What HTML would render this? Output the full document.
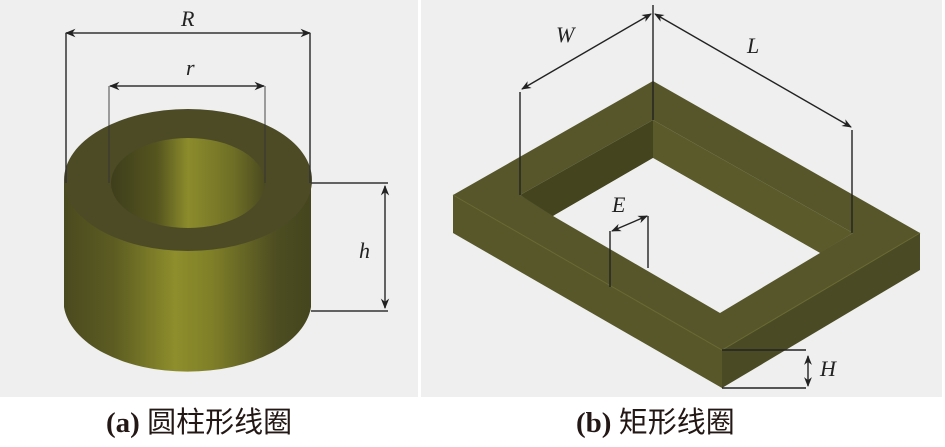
<!DOCTYPE html>
<html><head><meta charset="utf-8"><style>
html,body{margin:0;padding:0;background:#fff;}
svg{display:block}
</style></head><body>
<svg width="945" height="447" viewBox="0 0 945 447" xmlns="http://www.w3.org/2000/svg">
<defs>
<linearGradient id="side" x1="0" x2="1" y1="0" y2="0">
<stop offset="0" stop-color="#4a4a20"/><stop offset="0.2" stop-color="#5c5c22"/><stop offset="0.45" stop-color="#8e8e2c"/><stop offset="0.6" stop-color="#7f7f28"/><stop offset="0.85" stop-color="#4e4e22"/><stop offset="1" stop-color="#45451e"/>
</linearGradient>
<linearGradient id="inner" x1="0" x2="1" y1="0" y2="0">
<stop offset="0" stop-color="#3e3e1c"/><stop offset="0.3" stop-color="#55551f"/><stop offset="0.5" stop-color="#8c8c2c"/><stop offset="0.8" stop-color="#6e6e26"/><stop offset="1" stop-color="#4a4a20"/>
</linearGradient>
<marker id="ar" viewBox="0 0 10 10" refX="9" refY="5" markerWidth="7" markerHeight="7" orient="auto-start-reverse"><path d="M0,1 L10,5 L0,9 L3,5 Z" fill="#222"/></marker>
</defs>
<rect x="0" y="0" width="418" height="397" fill="#efefef"/>
<rect x="421" y="0" width="521" height="397" fill="#efefef"/>

<path d="M64,180 L64,307 A124,71 0 0 0 311,307 L311,180 Z" fill="url(#side)"/>
<ellipse cx="188" cy="180" rx="124" ry="71" fill="#4c4b26"/>
<ellipse cx="188" cy="183" rx="77" ry="45" fill="url(#inner)"/>
<g stroke="#333" stroke-width="1.5" fill="none">
<line x1="66" y1="33" x2="310" y2="33" marker-start="url(#ar)" marker-end="url(#ar)"/>
<line x1="66" y1="33" x2="66" y2="183"/><line x1="310" y1="33" x2="310" y2="183"/>
<line x1="110" y1="86" x2="264" y2="86" marker-start="url(#ar)" marker-end="url(#ar)"/>
<line x1="109" y1="86" x2="109" y2="183" stroke-opacity="0.6"/><line x1="265" y1="86" x2="265" y2="183" stroke-opacity="0.6"/>
<line x1="311" y1="183" x2="388" y2="183"/><line x1="311" y1="311" x2="388" y2="311"/>
<line x1="385" y1="186" x2="385" y2="308" marker-start="url(#ar)" marker-end="url(#ar)"/>
</g>
<g font-family="Liberation Serif, serif" font-style="italic" font-size="22" fill="#222">
<text x="181" y="26">R</text><text x="186" y="75">r</text><text x="359" y="258">h</text>
</g>

<path d="M453,195 L722,350 L722,388 L453,233 Z" fill="#57572a"/>
<path d="M722,350 L920,233 L920,270 L722,388 Z" fill="#4a4a24"/>
<path d="M653,81 L920,233 L722,350 L453,195 Z M653,120 L520,195 L720,312 L853,233 Z" fill="#56562a" fill-rule="evenodd"/>
<path d="M653,120 L520,195 L553,216 L653,158 Z" fill="#44441f"/>
<path d="M653,120 L853,233 L820,253 L653,158 Z" fill="#5a5a2b"/>
<path d="M653,158 L820,253 L720,313 L553,216 Z" fill="#efefef"/>
<path d="M653,81 L653,120 M453,195 L722,350 L920,233" stroke="#6a6a35" stroke-width="1" fill="none"/>
<g stroke="#222" stroke-width="1.4" fill="none">
<line x1="653" y1="5" x2="653" y2="120"/>
<line x1="651" y1="14" x2="522" y2="89" marker-start="url(#ar)" marker-end="url(#ar)"/>
<line x1="655" y1="14" x2="851" y2="127" marker-start="url(#ar)" marker-end="url(#ar)"/>
<line x1="520" y1="92" x2="520" y2="195"/>
<line x1="852" y1="130" x2="852" y2="233"/>
<line x1="612" y1="231" x2="647" y2="216" marker-start="url(#ar)" marker-end="url(#ar)"/>
<line x1="610" y1="231" x2="610" y2="287"/><line x1="648" y1="216" x2="648" y2="268"/>
<line x1="722" y1="350" x2="806" y2="350"/><line x1="722" y1="388" x2="806" y2="388"/>
<line x1="808" y1="356" x2="808" y2="386" marker-start="url(#ar)" marker-end="url(#ar)"/>
</g>
<g font-family="Liberation Serif, serif" font-style="italic" font-size="22" fill="#222">
<text x="556" y="42">W</text><text x="747" y="53">L</text><text x="612" y="212">E</text><text x="820" y="376">H</text>
</g>

<g font-family="Liberation Serif, 'Noto Serif CJK SC', serif" font-size="29" fill="#231815">
<text x="106" y="432"><tspan font-weight="bold">(a)</tspan> <tspan font-family="'Noto Sans CJK SC', sans-serif" font-size="29">圆柱形线圈</tspan></text>
<text x="576" y="432"><tspan font-weight="bold">(b)</tspan> <tspan font-family="'Noto Sans CJK SC', sans-serif" font-size="29">矩形线圈</tspan></text>
</g>
</svg>
</body></html>
